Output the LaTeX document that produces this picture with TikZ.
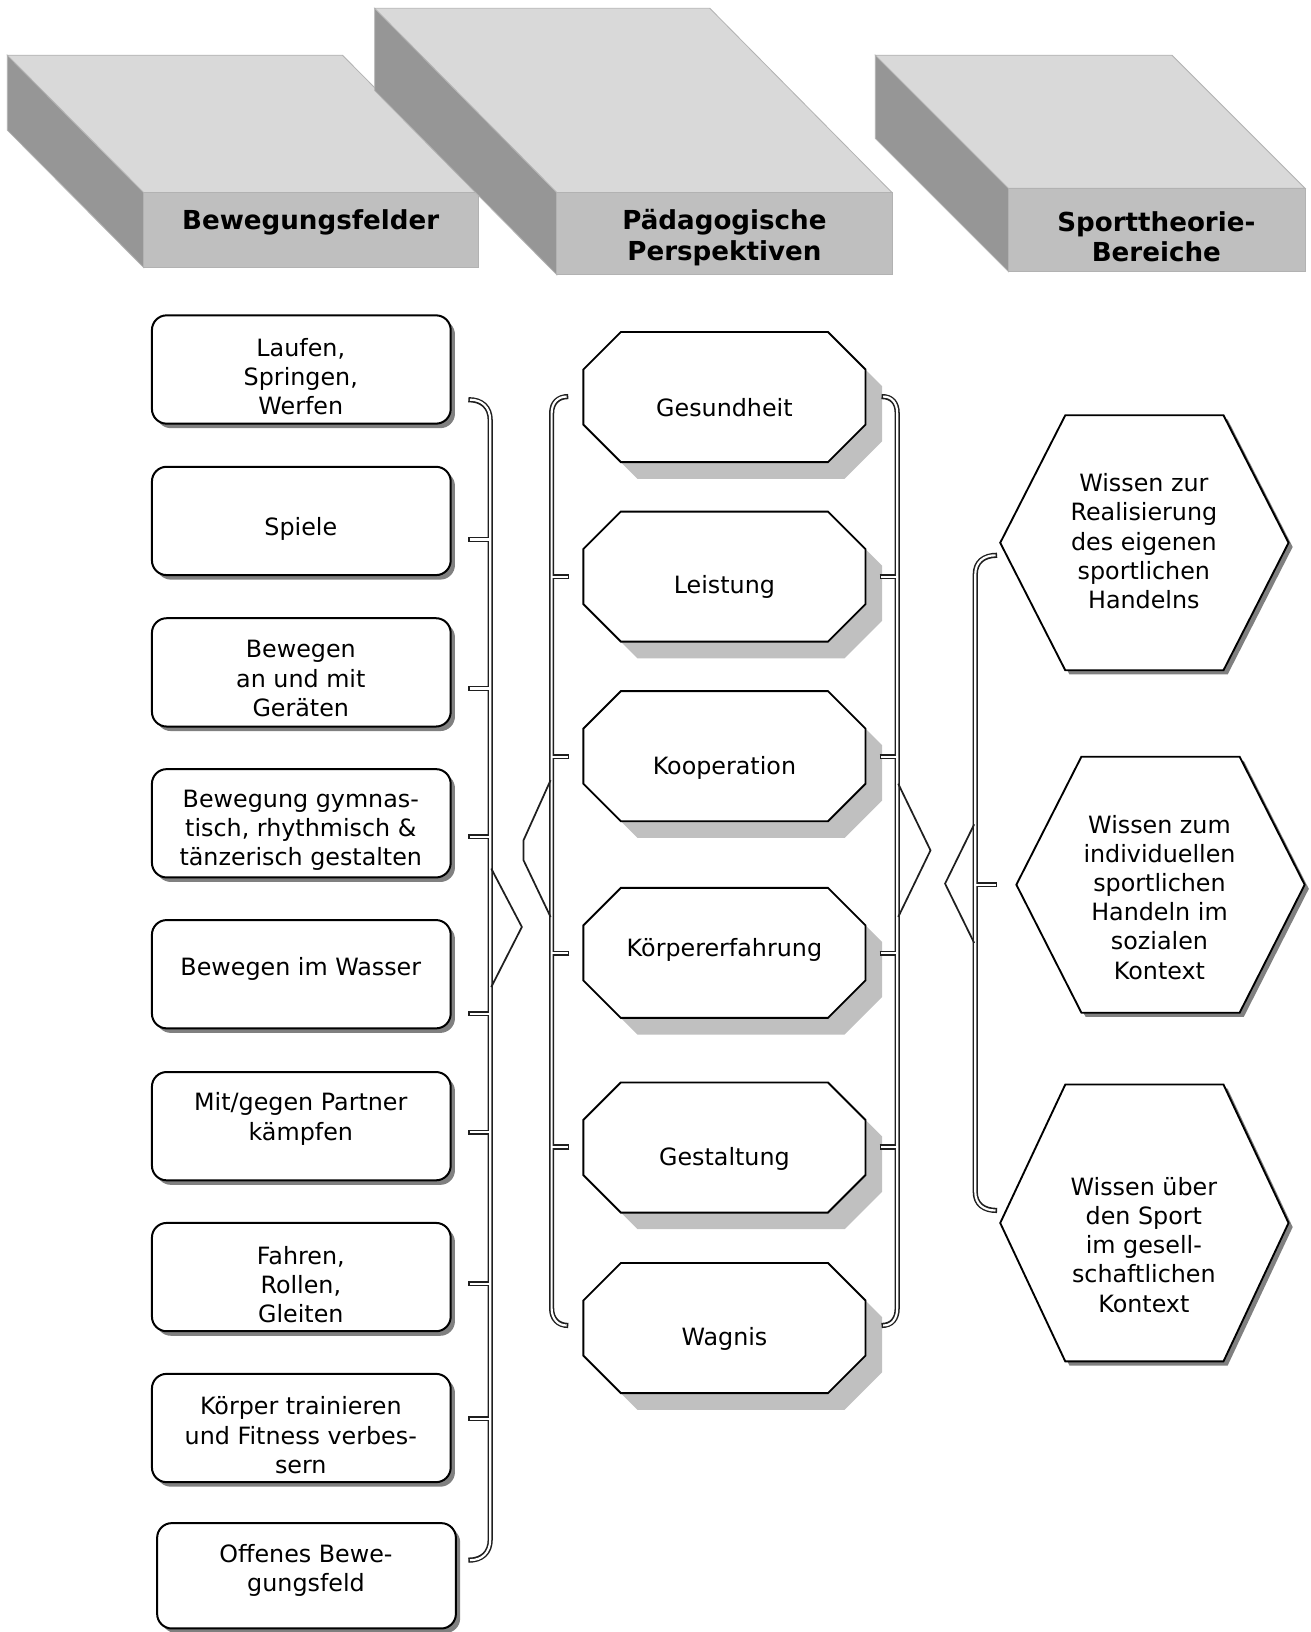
\documentclass[tikz,border=0pt]{standalone}
\usepackage{fontspec}
\setmainfont{DejaVu Sans}
\usetikzlibrary{shadows}
\definecolor{topface}{HTML}{D9D9D9}
\definecolor{sideface}{HTML}{969696}
\definecolor{frontface}{HTML}{BFBFBF}
\definecolor{octshadow}{HTML}{C0C0C0}
\definecolor{boxshadow}{HTML}{808080}
\newcommand{\brkdraw}[2]{%
  % left brace
  \draw[#1,#2] (450,384) .. controls (463,384) and (471,391) .. (471,404) -- (471,1479) .. controls (471,1492) and (463,1499) .. (450,1499);
  \foreach \yy in {518.3,661.5,804,974,1088,1233.4,1363} {\draw[#1] (450,\yy) -- (471,\yy);}
  % middle left brace
  \draw[#1,#2] (546,381) .. controls (536,381) and (530,387) .. (530,397) -- (530,1257) .. controls (530,1267) and (536,1273.5) .. (546,1273.5);
  \foreach \yy in {554,727,916,1102} {\draw[#1] (547,\yy) -- (530,\yy);}
  % middle right brace
  \draw[#1,#2] (847,381) .. controls (857,381) and (862,387) .. (862,397) -- (862,1257) .. controls (862,1267) and (857,1273.5) .. (847,1273.5);
  \foreach \yy in {554,727,916,1102} {\draw[#1] (845,\yy) -- (862,\yy);}
  % right brace
  \draw[#1,#2] (958,533.5) .. controls (945,533.5) and (937,540) .. (937,552) -- (937,1145) .. controls (937,1157) and (945,1163) .. (958,1163);
  \draw[#1] (958,850) -- (937,850);
}
\begin{document}
\begin{tikzpicture}[x=0.7804pt,y=-0.7804pt,
  face/.style={draw=black!30, line width=0.6pt},
  bodytext/.style={font=\fontsize{17.85}{21.9}\selectfont, align=center, inner sep=0pt},
  headtext/.style={font=\fontsize{19.6}{23.1}\selectfont\bfseries, align=center, inner sep=0pt},
  rbox/.style={rectangle, draw=black, fill=white, line width=1.5pt, rounded corners=11pt,
    minimum width=224pt, minimum height=81.2pt, inner sep=0pt,
    drop shadow={shadow xshift=3.2pt, shadow yshift=-3.4pt, fill=boxshadow, opacity=1}},
  octline/.style={fill=white, draw=black, line width=1.4pt},
  octshade/.style={fill=octshadow},
  hexline/.style={fill=white, draw=black, line width=1.4pt},
  hexshade/.style={fill=black!50},
  bo/.style={draw=black!88, line width=3.9pt},
  bi/.style={draw=white, line width=1.6pt, shorten <=1.2pt},
  bpoint/.style={draw=black!88, line width=1.3pt}]
\useasboundingbox (0,0) rectangle (1259,1568);
\fill[white] (0,0) rectangle (1259,1568);

% ---------- 3D header blocks ----------
\path[face, fill=sideface] (7,53) -- (138,185) -- (138,257) -- (7,125) -- cycle;
\path[face, fill=topface] (7,53) -- (329,53) -- (460,185) -- (138,185) -- cycle;
\path[face, fill=frontface] (138,185) rectangle (460,257);
\node[headtext] (h1) at (298.5,214) {Bewegungsfelder};

\path[face, fill=sideface] (360,8) -- (535,185) -- (535,264) -- (360,87) -- cycle;
\path[face, fill=topface] (360,8) -- (682,8) -- (857,185) -- (535,185) -- cycle;
\path[face, fill=frontface] (535,185) rectangle (857,264);
\node[headtext] (h2) at (696,228.5) {Pädagogische\\Perspektiven};

\path[face, fill=sideface] (841,53) -- (969,181) -- (969,261) -- (841,133) -- cycle;
\path[face, fill=topface] (841,53) -- (1126,53) -- (1254,181) -- (969,181) -- cycle;
\path[face, fill=frontface] (969,181) rectangle (1254,261);
\node[headtext] (h3) at (1111,227.5) {Sporttheorie-\\Bereiche};

% ---------- left column ----------
\node[rbox] (l1) at (289.5,355) {};
\node[rbox] (l2) at (289.5,500.5) {};
\node[rbox] (l3) at (289.5,646) {};
\node[rbox] (l4) at (289.5,791) {};
\node[rbox] (l5) at (289.5,936) {};
\node[rbox] (l6) at (289.5,1082) {};
\node[rbox] (l7) at (289.5,1227) {};
\node[rbox] (l8) at (289.5,1372) {};
\node[rbox, minimum height=79pt] (l9) at (294.5,1514) {};

\node[bodytext] (t1) at (289,362) {Laufen,\\Springen,\\Werfen};
\node[bodytext] (t2) at (289,508) {Spiele};
\node[bodytext] (t3) at (289,652) {Bewegen\\an und mit\\Geräten};
\node[bodytext] (t4) at (289,798) {Bewegung gymnas-\\tisch, rhythmisch \&\\tänzerisch gestalten};
\node[bodytext] (t5) at (289,931) {Bewegen im Wasser};
\node[bodytext] (t6) at (289,1075) {Mit/gegen Partner\\kämpfen};
\node[bodytext] (t7) at (289,1234) {Fahren,\\Rollen,\\Gleiten};
\node[bodytext] (t8) at (289,1379) {Körper trainieren\\und Fitness verbes-\\sern};
\node[bodytext] (t9) at (294,1509) {Offenes Bewe-\\gungsfeld};

% ---------- middle column (octagons) ----------
\foreach \n/\cy in {1/381.5,2/554,3/726.5,4/915.5,5/1102.5,6/1276} {
  \begin{scope}[shift={(696,\cy)}]
    \coordinate (oct\n) at (0,0);
    \begin{scope}[shift={(16,16)}]
      \fill[octshade] (-99.5,-62.5) -- (99.5,-62.5) -- (135.5,-26.5) -- (135.5,26.5) -- (99.5,62.5) -- (-99.5,62.5) -- (-135.5,26.5) -- (-135.5,-26.5) -- cycle;
    \end{scope}
    \path[octline] (-99.5,-62.5) -- (99.5,-62.5) -- (135.5,-26.5) -- (135.5,26.5) -- (99.5,62.5) -- (-99.5,62.5) -- (-135.5,26.5) -- (-135.5,-26.5) -- cycle;
  \end{scope}
}
\node[bodytext] (m1) at (696,392) {Gesundheit};
\node[bodytext] (m2) at (696,564) {Leistung};
\node[bodytext] (m3) at (696,738) {Kooperation};
\node[bodytext] (m4) at (696,913) {Körpererfahrung};
\node[bodytext] (m5) at (696,1113) {Gestaltung};
\node[bodytext] (m6) at (696,1286) {Wagnis};

% ---------- right column (hexagons) ----------
\foreach \n/\cx/\cy/\hh in {1/1099.5/521.5/122.5,2/1115/850/123,3/1099.5/1175/133} {
  \begin{scope}[shift={(\cx,\cy)}]
    \coordinate (hex\n) at (0,0);
    \begin{scope}[shift={(4,4)}]
      \fill[hexshade] (-76,-\hh) -- (76,-\hh) -- (138.5,0) -- (76,\hh) -- (-76,\hh) -- (-138.5,0) -- cycle;
    \end{scope}
    \path[hexline] (-76,-\hh) -- (76,-\hh) -- (138.5,0) -- (76,\hh) -- (-76,\hh) -- (-138.5,0) -- cycle;
  \end{scope}
}
\node[bodytext] (r1) at (1099,520) {Wissen zur\\Realisierung\\des eigenen\\sportlichen\\Handelns};
\node[bodytext] (r2) at (1114,862) {Wissen zum\\individuellen\\sportlichen\\Handeln im\\sozialen\\Kontext};
\node[bodytext] (r3) at (1099,1196) {Wissen über\\den Sport\\im gesell-\\schaftlichen\\Kontext};

% ---------- brackets ----------
\brkdraw{bo}{}
\brkdraw{bi}{shorten >=1.2pt}
\draw[bpoint] (472,834.5) -- (501.4,890.6) -- (472,948.3);
\draw[bpoint] (529,749.6) -- (503,807.3) -- (503,826.5) -- (529,881);
\draw[bpoint] (863,753) -- (894,817) -- (863,881);
\draw[bpoint] (936,792) -- (908,849) -- (936,906);
\end{tikzpicture}
\end{document}
